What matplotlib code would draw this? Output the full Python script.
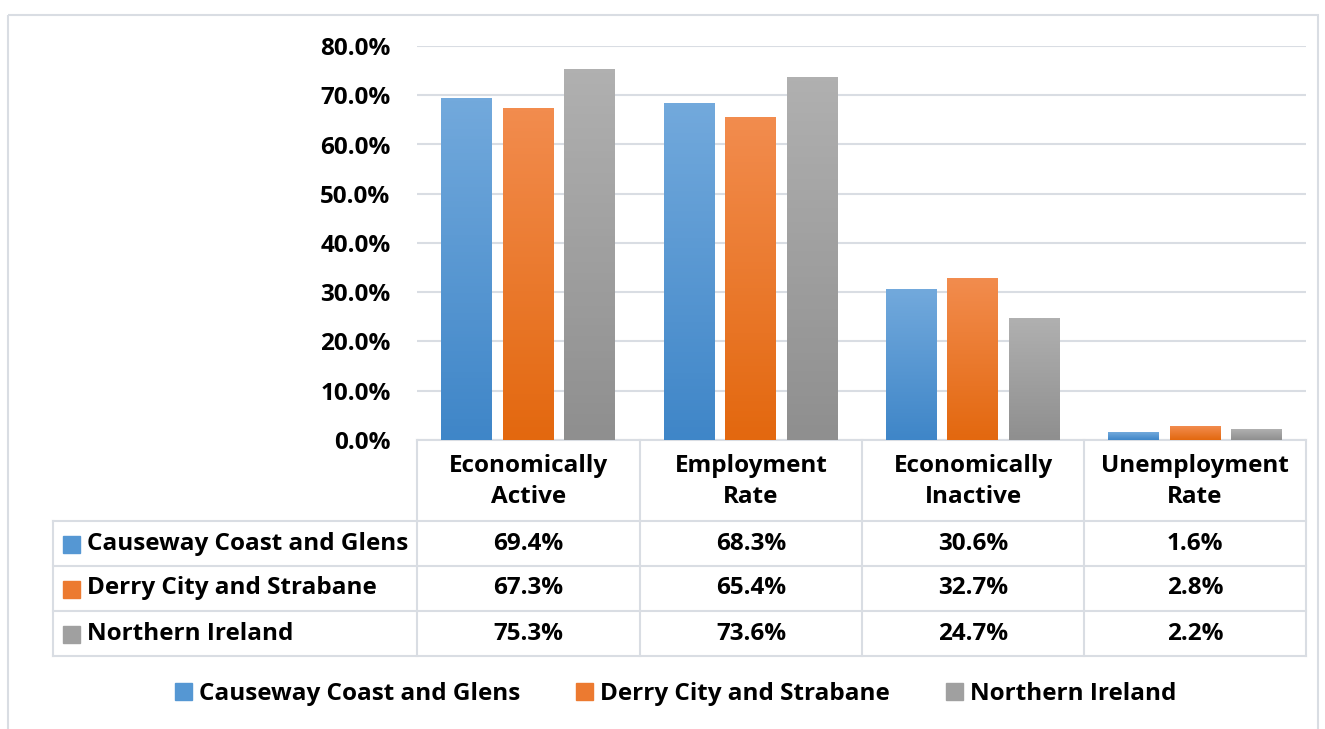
import numpy as np
import matplotlib
matplotlib.use('Agg')
import matplotlib.pyplot as plt
from matplotlib.colors import LinearSegmentedColormap
from matplotlib.patches import Rectangle
from matplotlib.lines import Line2D

plt.rcParams['font.family'] = ['Open Sans', 'DejaVu Sans']
plt.rcParams['font.weight'] = 'bold'

# data
categories = ['Economically\nActive', 'Employment\nRate', 'Economically\nInactive', 'Unemployment\nRate']
series = ['Causeway Coast and Glens', 'Derry City and Strabane', 'Northern Ireland']
ccg = [69.4, 68.3, 30.6, 1.6]
dcs = [67.3, 65.4, 32.7, 2.8]
ni = [75.3, 73.6, 24.7, 2.2]
yticks = [0, 10, 20, 30, 40, 50, 60, 70, 80]

# gradient colours (top, bottom) and a flat colour for squares
grads = [('#72A9DC', '#3F86C8'), ('#F28C4E', '#E3680F'), ('#B0B0B0', '#8F8F8F')]
flat = ['#5597D3', '#EC7A30', '#A0A0A0']
grid_c = '#D9DDE3'
fs = 17.5

W, H = 1325, 729
fig = plt.figure(figsize=(W / 100, H / 100), dpi=100)

# overlay in pixel coords for table / frame
ov = fig.add_axes([0, 0, 1, 1])
ov.set_xlim(0, W)
ov.set_ylim(H, 0)
ov.axis('off')
ov.add_patch(Rectangle((8, 15), 1310, 760, fill=False, ec=grid_c, lw=1.5))

left, right, top, base = 417, 1306, 46, 440
ax = fig.add_axes([left / W, 1 - base / H, (right - left) / W, (base - top) / H])
ax.set_zorder(2)
ax.patch.set_alpha(0)

x = np.arange(len(categories))
bw = 0.227
step = 0.277
for i, vals in enumerate([ccg, dcs, ni]):
    bars = ax.bar(x + (i - 1) * step, vals, bw, color=flat[i], zorder=1)
    cmap = LinearSegmentedColormap.from_list('g%d' % i, [grads[i][1], grads[i][0]])
    for b in bars:
        b.set_visible(False)
        x0, h, w = b.get_x(), b.get_height(), b.get_width()
        ax.imshow(np.linspace(0, 1, 100).reshape(-1, 1), extent=[x0, x0 + w, 0, h],
                  origin='lower', aspect='auto', cmap=cmap, zorder=2)

ax.set_xlim(-0.5, len(categories) - 0.5)
ax.set_ylim(0, 80)
ax.set_yticks(yticks)
ax.set_yticklabels(['%.1f%%' % t for t in yticks], fontsize=fs, fontweight='bold')
ax.yaxis.grid(True, color=grid_c, lw=1.5, zorder=0)
ax.set_axisbelow(True)
ax.tick_params(axis='y', length=0, pad=19)
ax.set_xticks([])
for s in ax.spines.values():
    s.set_visible(False)

# data table
col_edges = [417, 640, 862, 1084, 1306]
row_edges = [440, 521, 566, 611, 656]
tl = 53
lw = 1.5
ov.add_line(Line2D([left, right], [440, 440], color=grid_c, lw=lw))
for ye in row_edges[1:]:
    ov.add_line(Line2D([tl, right], [ye, ye], color=grid_c, lw=lw))
for xe in col_edges:
    ov.add_line(Line2D([xe, xe], [440, 656], color=grid_c, lw=lw))
ov.add_line(Line2D([tl, tl], [521, 656], color=grid_c, lw=lw))

for j, cat in enumerate(categories):
    cx = (col_edges[j] + col_edges[j + 1]) / 2
    ov.text(cx, (row_edges[0] + row_edges[1]) / 2 + 1, cat, ha='center', va='center',
            fontsize=fs, fontweight='bold', linespacing=1.4)
    for i, vals in enumerate([ccg, dcs, ni]):
        cy = (row_edges[i + 1] + row_edges[i + 2]) / 2
        ov.text(cx, cy, '%.1f%%' % vals[j], ha='center', va='center',
                fontsize=fs, fontweight='bold')

for i, name in enumerate(series):
    cy = (row_edges[i + 1] + row_edges[i + 2]) / 2
    ov.add_patch(Rectangle((63, cy - 8), 17, 17, color=flat[i]))
    ov.text(87, cy, name, ha='left', va='center', fontsize=fs, fontweight='bold')

# legend
handles = [Rectangle((0, 0), 1, 1, color=c) for c in flat]
fig.legend(handles, series, loc='center', bbox_to_anchor=(0.51, 1 - 694 / H), ncol=3,
           frameon=False, handlelength=0.7, handleheight=0.7,
           handletextpad=0.3, columnspacing=2.3, prop={'weight': 'bold', 'size': fs})

fig.savefig('out.png', dpi=100)
